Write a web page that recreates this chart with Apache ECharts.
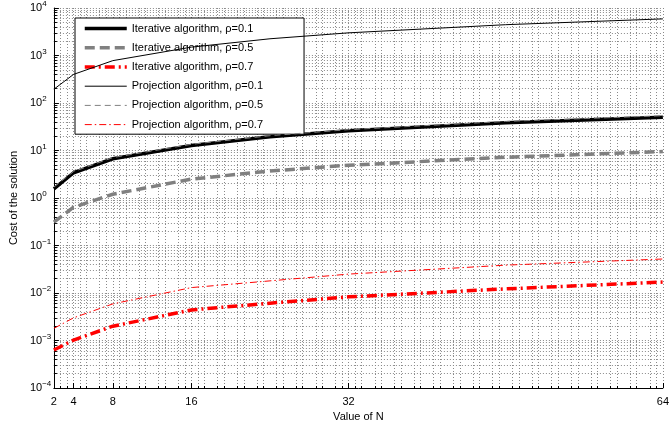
<!DOCTYPE html>
<html><head><meta charset="utf-8">
<script src="https://cdn.jsdelivr.net/npm/echarts@6/dist/echarts.min.js"></script>
<style>html,body{margin:0;padding:0;background:#fff}#c{width:672px;height:431px}</style>
</head><body><div id="c"></div>
<script>
// ---- data ----
const N = [2, 4, 8, 16, 24, 32, 48, 64];
const iterRho01 = [1.55, 3.4, 6.7, 12.8, 19.5, 26, 38.5, 50];
const iterRho05 = [0.31, 0.64, 1.2, 2.5, 3.7, 4.9, 7.2, 9.5];
const iterRho07 = [0.00063, 0.00102, 0.002, 0.0044, 0.0061, 0.0083, 0.0122, 0.017];
const projRho01 = [195, 400, 780, 1500, 2250, 3000, 4450, 5900];
const projRho05 = [1.7, 3.6, 7.1, 13.5, 20.5, 27.5, 41, 54];
const projRho07 = [0.0018, 0.003, 0.0059, 0.013, 0.018, 0.025, 0.0386, 0.052];
const xTicks = [2, 4, 8, 16, 32, 64];
const seriesNames = [
  'Iterative algorithm, \u03c1=0.1',
  'Iterative algorithm, \u03c1=0.5',
  'Iterative algorithm, \u03c1=0.7',
  'Projection algorithm, \u03c1=0.1',
  'Projection algorithm, \u03c1=0.5',
  'Projection algorithm, \u03c1=0.7'
];
const xName = 'Value of N';
const yName = 'Cost of the solution';

const FONT = '"Liberation Sans", Arial, sans-serif';
const GRID = '#8a8a8a';
const DOT = [1, 2];

const styles = [
  { color: '#000000', width: 3.5, type: 'solid' },
  { color: '#808080', width: 3.5, type: [10, 5] },
  { color: '#ff0000', width: 3.5, type: [10, 4, 2, 4] },
  { color: '#000000', width: 1, type: 'solid' },
  { color: '#808080', width: 1, type: [6, 4] },
  { color: '#ff0000', width: 1, type: [7, 3, 1.5, 3] }
];
const values = [iterRho01, iterRho05, iterRho07, projRho01, projRho05, projRho07];

const chart = echarts.init(document.getElementById('c'), null, { renderer: 'canvas' });
chart.setOption({
  animation: false,
  textStyle: { fontFamily: FONT },
  grid: { left: 47, right: 5, top: 8, bottom: 43 },
  legend: {
    orient: 'vertical', left: 75, top: 18,
    itemWidth: 42, itemHeight: 14, itemGap: 8,
    padding: [5, 41, 4, 8],
    backgroundColor: '#fff', borderColor: '#000', borderWidth: 1, borderRadius: 0,
    itemStyle: { opacity: 0, borderWidth: 0 },
    textStyle: { fontSize: 11, color: '#000', fontFamily: FONT },
    data: seriesNames.map((n, i) => ({
      name: n,
      itemStyle: { opacity: 0, borderWidth: 0 },
      lineStyle: { color: styles[i].color, width: styles[i].width, type: styles[i].type }
    }))
  },
  xAxis: {
    type: 'value', min: 2, max: 64, interval: 2,
    name: xName, nameLocation: 'middle', nameGap: 21,
    nameTextStyle: { fontSize: 11, color: '#000', fontFamily: FONT },
    axisLine: { show: true, lineStyle: { color: '#000', width: 1 } },
    axisTick: { show: true, inside: true, length: 5, customValues: xTicks, lineStyle: { color: '#000' } },
    axisLabel: { customValues: xTicks, fontSize: 11, color: '#000', margin: 8, fontFamily: FONT },
    splitLine: { show: true, lineStyle: { color: GRID, type: DOT, width: 1 } },
    minorTick: { show: true, splitNumber: 3, length: 2, lineStyle: { color: '#000' } },
    minorSplitLine: { show: true, lineStyle: { color: GRID, type: DOT, width: 1 } }
  },
  yAxis: {
    type: 'log', logBase: 10, min: 1e-4, max: 1e4, splitNumber: 8,
    name: yName, nameLocation: 'middle', nameGap: 30,
    nameTextStyle: { fontSize: 11, color: '#000', fontFamily: FONT },
    axisLine: { show: true, lineStyle: { color: '#000', width: 1 } },
    axisTick: { show: true, inside: true, length: 5, lineStyle: { color: '#000' } },
    axisLabel: {
      align: 'left', margin: 24, color: '#000',
      formatter: function (v) {
        const e = Math.round(Math.log10(v));
        return '{b|10}{s|' + (e < 0 ? '\u2212' + (-e) : e) + '}';
      },
      rich: {
        b: { fontSize: 11, color: '#000', fontFamily: FONT },
        s: { fontSize: 8, color: '#000', fontFamily: FONT, padding: [0, 0, 8, 0] }
      }
    },
    splitLine: { show: true, lineStyle: { color: GRID, type: DOT, width: 1 } },
    minorTick: { show: true, splitNumber: 9, length: 3, lineStyle: { color: '#000' } },
    minorSplitLine: { show: true, lineStyle: { color: GRID, type: DOT, width: 1 } }
  },
  series: seriesNames.map((name, i) => ({
    name: name, type: 'line', z: i < 3 ? 3 : 4,
    data: N.map((n, j) => [n, values[i][j]]),
    symbol: 'none', showSymbol: false,
    lineStyle: { color: styles[i].color, width: styles[i].width, type: styles[i].type },
    itemStyle: { color: styles[i].color },
    emphasis: { disabled: true }
  }))
});
</script>
</body></html>
